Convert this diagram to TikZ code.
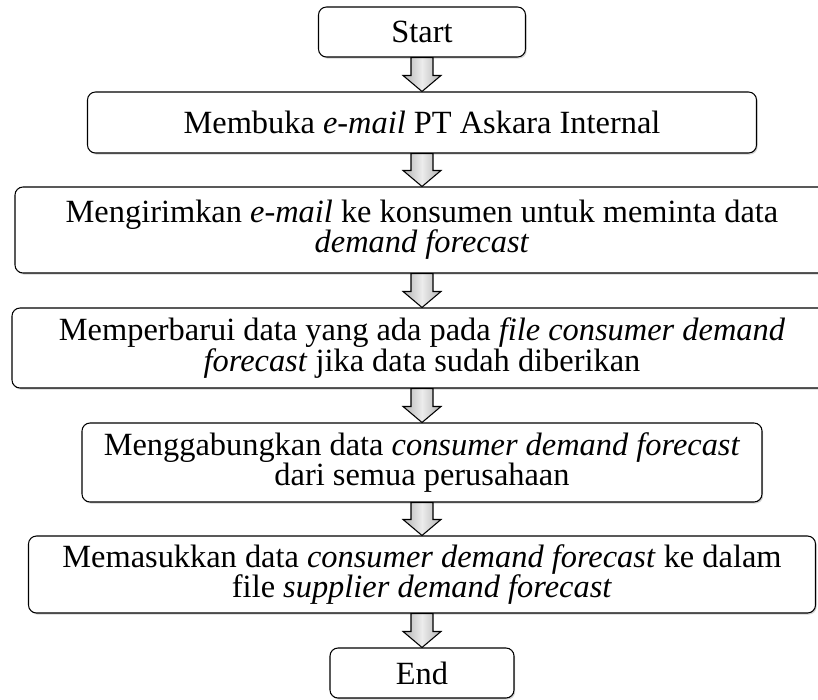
\documentclass[tikz,border=0pt]{standalone}
\usepackage{fontspec}
\setmainfont{Liberation Serif}
\usetikzlibrary{calc,shadows}

\begin{document}
\begin{tikzpicture}[x=0.75pt,y=0.75pt,every node/.style={font=\fontsize{24.3}{22.8}\selectfont},
  stepbox/.style={draw,line width=.8pt,rounded corners=6pt,fill=white,align=center,inner sep=0pt,
    drop shadow={shadow xshift=.9pt,shadow yshift=-1.2pt,opacity=.35}},
  flowarrow/.style={draw=black,line width=.8pt,left color=gray!60,right color=gray!60,middle color=gray!15}]
\useasboundingbox (0,0) rectangle (818,-700);
\clip (0,0) rectangle (818,-700);
\node[stepbox,minimum width=155.25pt,minimum height=37.5pt] (start) at (422,-32) {Start};
\node[stepbox,minimum width=501.75pt,minimum height=45.75pt] (mail) at (422,-122.5) {Membuka \textit{e-mail} PT Askara Internal};
\node[stepbox,minimum width=610.5pt,minimum height=64.5pt] (kirim) at (422,-230) {Mengirimkan \textit{e-mail} ke konsumen untuk meminta data\\ \textit{demand forecast}};
\node[stepbox,minimum width=615pt,minimum height=60pt] (update) at (422,-348) {Memperbarui data yang ada pada \textit{file consumer demand}\\ \textit{forecast} jika data sudah diberikan};
\node[stepbox,minimum width=510pt,minimum height=59.25pt] (gabung) at (422,-462.5) {Menggabungkan data \textit{consumer demand forecast}\\ dari semua perusahaan};
\node[stepbox,minimum width=590.25pt,minimum height=57.75pt] (masuk) at (422,-574.5) {Memasukkan data \textit{consumer demand forecast} ke dalam\\ file \textit{supplier demand forecast}};
\node[stepbox,minimum width=138pt,minimum height=37.5pt] (finish) at (422,-673) {End};
% block arrows between the steps
\foreach \a/\b in {start/mail,mail/kirim,kirim/update,update/gabung,gabung/masuk,masuk/finish}
  \draw[flowarrow] ($(\a.south)+(-11,0)$) -- ($(\a.south)+(11,0)$) -- ($(\b.north)+(11,16)$) -- ($(\b.north)+(19,16)$)
    -- (\b.north) -- ($(\b.north)+(-19,16)$) -- ($(\b.north)+(-11,16)$) -- cycle;
\end{tikzpicture}
\end{document}
